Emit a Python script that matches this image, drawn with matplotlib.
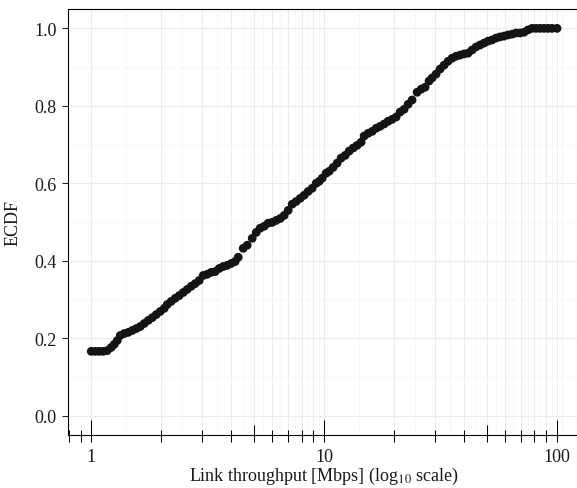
import numpy as np
import matplotlib
matplotlib.use("Agg")
import matplotlib.pyplot as plt
from matplotlib.ticker import FixedLocator, FuncFormatter
from matplotlib.transforms import blended_transform_factory

# ---- data ----
throughput = [1.000, 1.040, 1.082, 1.126, 1.171, 1.218, 1.255, 1.293, 1.332, 1.386,
              1.441, 1.500, 1.561, 1.623, 1.689, 1.757, 1.827, 1.901, 1.978, 2.057,
              2.120, 2.204, 2.293, 2.386, 2.482, 2.582, 2.687, 2.795, 2.907, 3.025,
              3.147, 3.273, 3.405, 3.543, 3.685, 3.834, 3.989, 4.150, 4.275, 4.491,
              4.673, 4.909, 5.108, 5.313, 5.528, 5.751, 5.982, 6.223, 6.475, 6.735,
              7.007, 7.290, 7.583, 7.889, 8.207, 8.537, 8.882, 9.241, 9.517, 9.804,
              10.20, 10.51, 10.93, 11.37, 11.83, 12.31, 12.80, 13.32, 13.86, 14.41,
              14.85, 15.45, 16.07, 16.72, 17.39, 18.09, 18.82, 19.58, 20.37, 21.20,
              22.05, 22.94, 23.86, 25.07, 26.09, 27.13, 28.22, 29.08, 30.25, 31.47,
              32.73, 34.05, 35.43, 36.85, 38.34, 39.89, 41.50, 43.17, 44.91, 46.72,
              48.61, 50.57, 52.60, 54.73, 56.94, 59.23, 61.62, 64.11, 66.69, 69.38,
              72.18, 75.09, 78.12, 81.27, 84.55, 87.96, 91.51, 95.17, 100.0]
ecdf = [0.166, 0.166, 0.166, 0.166, 0.168, 0.176, 0.184, 0.194, 0.207, 0.212,
        0.215, 0.220, 0.225, 0.230, 0.238, 0.246, 0.253, 0.261, 0.269, 0.277,
        0.287, 0.295, 0.303, 0.310, 0.318, 0.326, 0.334, 0.341, 0.349, 0.362,
        0.365, 0.370, 0.372, 0.380, 0.385, 0.388, 0.393, 0.398, 0.409, 0.432,
        0.440, 0.458, 0.473, 0.484, 0.489, 0.497, 0.499, 0.504, 0.509, 0.517,
        0.530, 0.546, 0.553, 0.561, 0.569, 0.579, 0.587, 0.600, 0.605, 0.613,
        0.626, 0.631, 0.641, 0.652, 0.665, 0.672, 0.683, 0.691, 0.698, 0.706,
        0.722, 0.729, 0.734, 0.742, 0.747, 0.753, 0.760, 0.765, 0.771, 0.784,
        0.791, 0.804, 0.815, 0.835, 0.843, 0.848, 0.864, 0.872, 0.882, 0.895,
        0.905, 0.915, 0.923, 0.928, 0.931, 0.934, 0.936, 0.944, 0.952, 0.957,
        0.962, 0.967, 0.970, 0.975, 0.978, 0.980, 0.983, 0.985, 0.988, 0.988,
        0.990, 0.996, 1.000, 1.000, 1.000, 1.000, 1.000, 1.000, 1.000]

major_x = [1, 2, 3, 4, 5, 6, 7, 8, 9, 10, 20, 30, 40, 50, 60, 70, 80, 90, 100]
x_labels = {1: "1", 10: "10", 100: "100"}
y_ticks = [0.0, 0.2, 0.4, 0.6, 0.8, 1.0]
y_minor = [0.1, 0.3, 0.5, 0.7, 0.9]
logtick_long = [1, 10, 100]
logtick_mid = [5, 50]
logtick_short = [0.8, 0.9, 2, 3, 4, 6, 7, 8, 9, 20, 30, 40, 60, 70, 80, 90]

# ---- style ----
plt.rcParams['font.family'] = ['Liberation Serif', 'DejaVu Serif']
plt.rcParams['mathtext.fontset'] = 'stix'
FS = 13
W, H = 577, 489
fig = plt.figure(figsize=(W / 100, H / 100), dpi=100)
ax_left, ax_right, ax_top, ax_bot = 68, 580.3, 10, 436
ax = fig.add_axes([ax_left / W, 1 - ax_bot / H, (ax_right - ax_left) / W, (ax_bot - ax_top) / H])
ax_h_px = ax_bot - ax_top

ax.set_xscale('log')
ax.set_xlim(10 ** -0.1, 10 ** 2.1)
ax.set_ylim(-0.05, 1.05)

# minor x breaks: geometric midpoints of major breaks (+ one beyond the last)
ext = major_x + [major_x[-1] ** 2 / major_x[-2]]
minor_x = [np.sqrt(a * b) for a, b in zip(ext[:-1], ext[1:])]

ax.xaxis.set_major_locator(FixedLocator(major_x))
ax.xaxis.set_minor_locator(FixedLocator(minor_x))
ax.xaxis.set_major_formatter(FuncFormatter(lambda v, p: x_labels.get(int(round(v)), "") if abs(v - round(v)) < 1e-9 else ""))
ax.xaxis.set_minor_formatter(FuncFormatter(lambda v, p: ""))
ax.yaxis.set_major_locator(FixedLocator(y_ticks))
ax.yaxis.set_minor_locator(FixedLocator(y_minor))
ax.yaxis.set_major_formatter(FuncFormatter(lambda v, p: f"{v:.1f}"))

ax.grid(True, which='major', color='#EBEBEB', linewidth=0.75, zorder=0)
ax.grid(True, which='minor', color='#F4F4F4', linewidth=0.5, zorder=0)
ax.set_axisbelow(True)

ax.tick_params(axis='x', which='both', length=0, pad=9.5, labelsize=FS, colors='#1a1a1a')
ax.tick_params(axis='y', which='major', direction='out', length=4.3, width=0.75, pad=4.0,
               labelsize=FS, colors='#1a1a1a')
ax.tick_params(axis='y', which='minor', length=0)

for side in ['left', 'top', 'bottom']:
    ax.spines[side].set_color('black')
    ax.spines[side].set_linewidth(0.8)
ax.spines['right'].set_visible(False)

# log ticks annotation
tr = blended_transform_factory(ax.transData, ax.transAxes)
below = -7 / ax_h_px
for vals, ln in [(logtick_long, 15), (logtick_mid, 10), (logtick_short, 5)]:
    ax.vlines(vals, below, ln / ax_h_px, transform=tr, colors='black', linewidth=0.75, clip_on=False)

ax.scatter(throughput, ecdf, s=40, color='#141414', edgecolors='none', zorder=3, clip_on=False)

ax.set_xlabel(r"Link throughput [Mbps] (log$_{10}$ scale)", fontsize=FS, color='#1a1a1a')
ax.xaxis.set_label_coords(0.5, (ax_bot - 466) / ax_h_px)
fig.text(13 / W, 1 - 223 / H, "ECDF", rotation=90, ha='center', va='center', fontsize=FS, color='#1a1a1a')

fig.savefig("out.png", dpi=100)
